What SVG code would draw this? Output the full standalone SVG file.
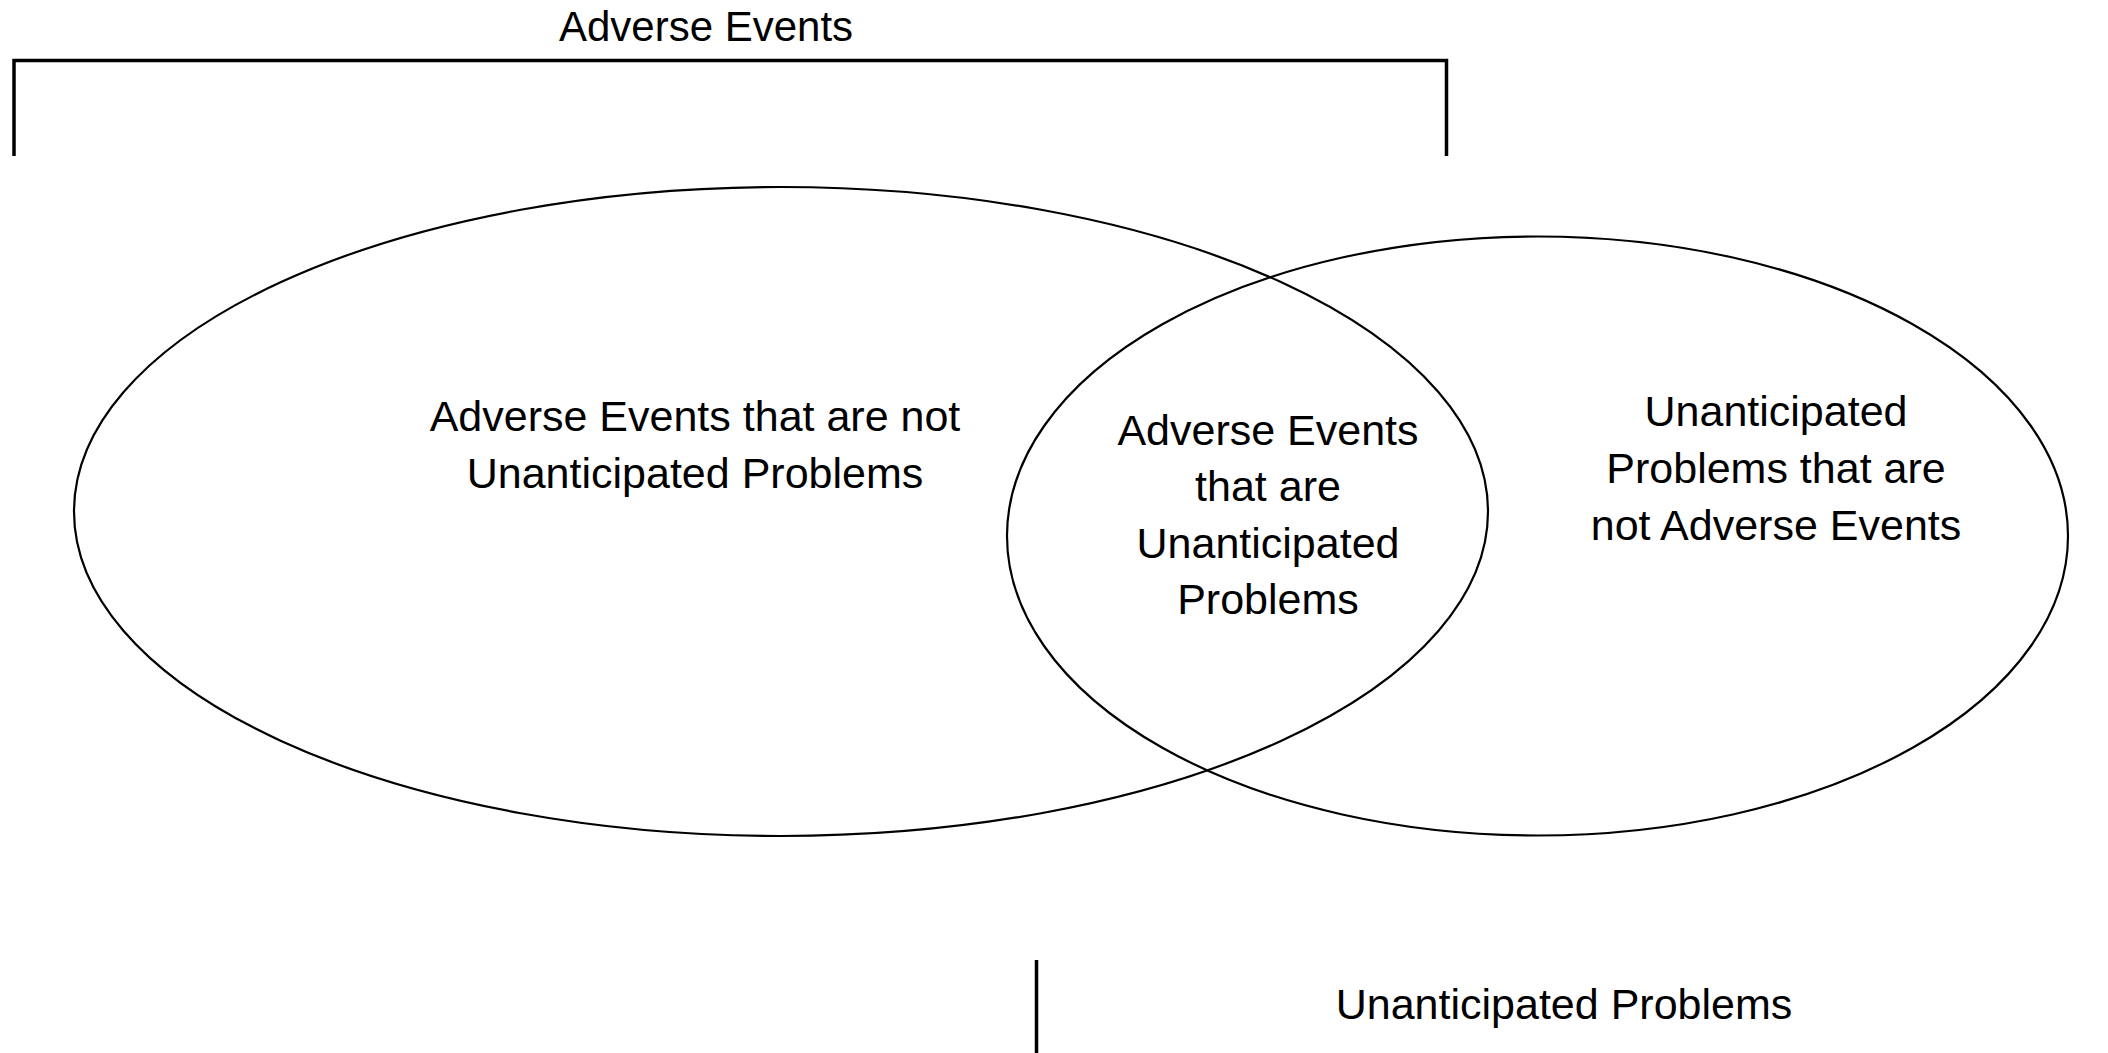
<svg xmlns="http://www.w3.org/2000/svg" width="2108" height="1053" viewBox="0 0 2108 1053">
<style>
.t{font-family:"Liberation Sans",Arial,sans-serif;font-size:43px;fill:#000;text-anchor:middle}
.e{fill:none;stroke:#000;stroke-width:2.2}
.b{fill:none;stroke:#000;stroke-width:3.5}
</style>
<rect width="2108" height="1053" fill="#fff"/>
<g id="adverse-events-set">
<ellipse class="e" cx="781" cy="511.5" rx="707" ry="324.5"/>
<text class="t" x="695" y="431">Adverse Events that are not</text>
<text class="t" x="695" y="488">Unanticipated Problems</text>
</g>
<g id="unanticipated-problems-set">
<ellipse class="e" cx="1537.5" cy="536" rx="530.5" ry="299.5"/>
<text class="t" x="1776" y="426">Unanticipated</text>
<text class="t" x="1776" y="483">Problems that are</text>
<text class="t" x="1776" y="540">not Adverse Events</text>
</g>
<g id="intersection">
<text class="t" x="1268" y="445">Adverse Events</text>
<text class="t" x="1268" y="501">that are</text>
<text class="t" x="1268" y="558">Unanticipated</text>
<text class="t" x="1268" y="614">Problems</text>
</g>
<g id="connectors">
<polyline class="b" points="14,156 14,60.5 1446.5,60.5 1446.5,156"/>
<line class="b" x1="1036.5" y1="960" x2="1036.5" y2="1053"/>
</g>
<g id="labels">
<text class="t" x="706" y="41" style="font-size:42px">Adverse Events</text>
<text class="t" x="1564" y="1019">Unanticipated Problems</text>
</g>
</svg>
